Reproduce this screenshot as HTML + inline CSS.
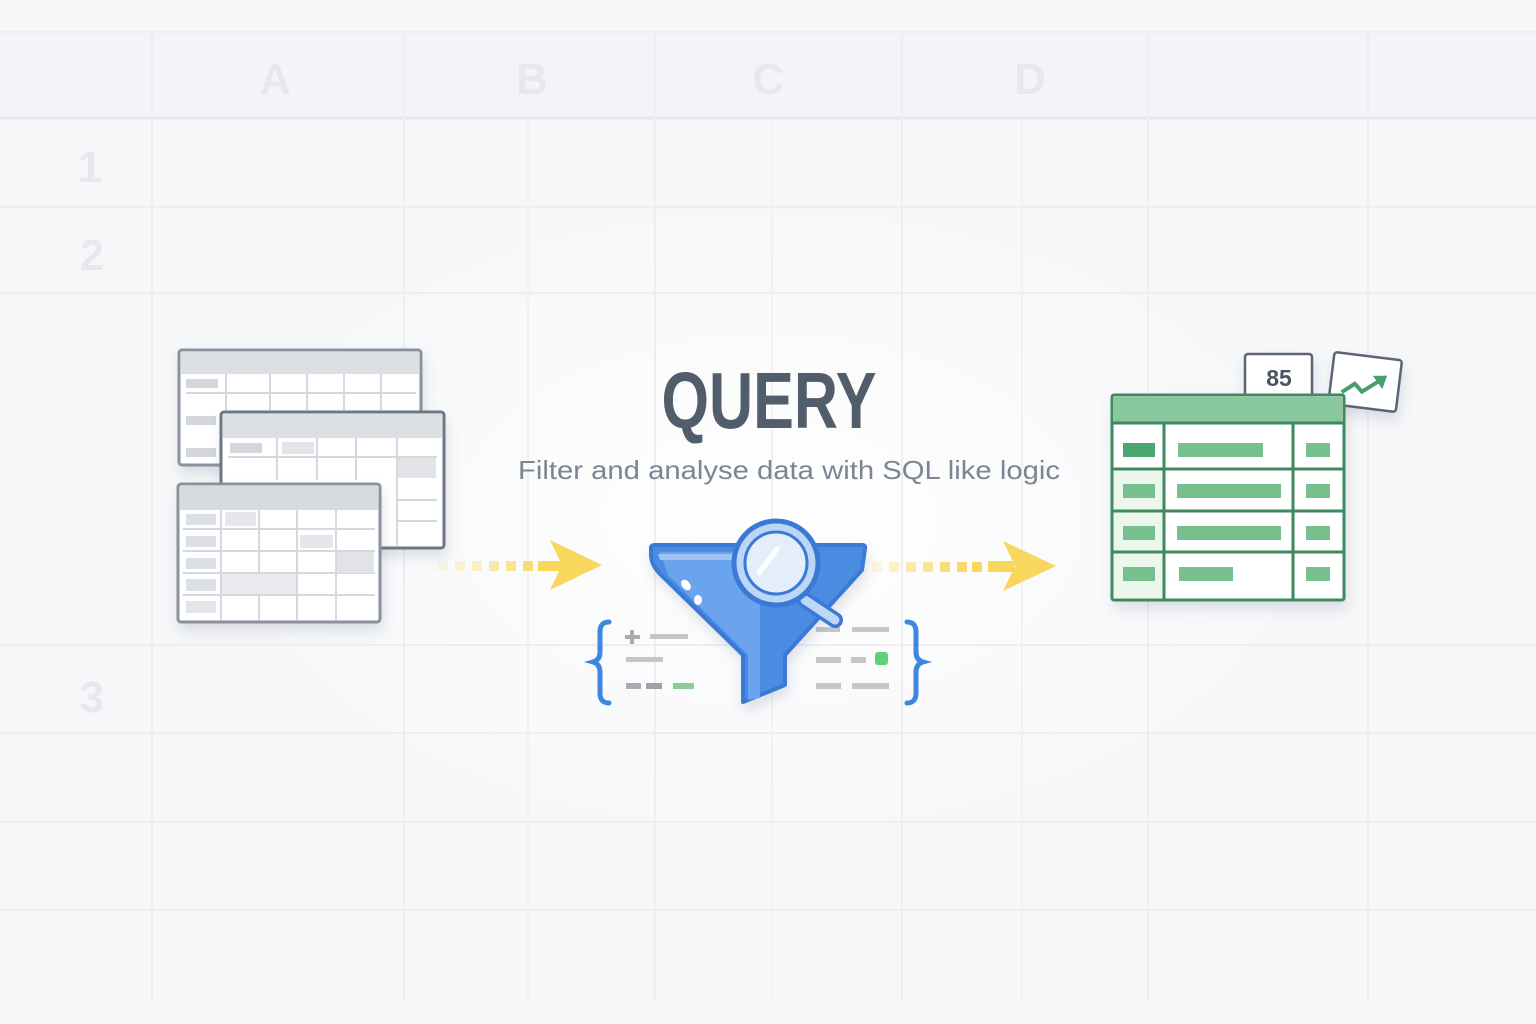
<!DOCTYPE html>
<html><head><meta charset="utf-8"><style>
html,body{margin:0;padding:0;background:#f6f7f9;}
svg{display:block;}
text{font-family:"Liberation Sans",sans-serif;}
</style></head><body>
<svg width="1536" height="1024" viewBox="0 0 1536 1024" xmlns="http://www.w3.org/2000/svg">
<defs>
<radialGradient id="glow" cx="50%" cy="50%" r="50%">
<stop offset="0" stop-color="#ffffff" stop-opacity="1"/>
<stop offset="1" stop-color="#ffffff" stop-opacity="0"/>
</radialGradient>
<filter id="sh" x="-20%" y="-20%" width="140%" height="150%"><feDropShadow dx="2" dy="8" stdDeviation="6" flood-color="#5a6a85" flood-opacity="0.18"/></filter>
</defs>
<rect width="1536" height="1024" fill="#f6f7f9"/>
<rect x="0" y="30" width="1536" height="88" fill="#f3f4f7"/>
<ellipse cx="770" cy="520" rx="560" ry="330" fill="url(#glow)"/>
<!-- grid -->
<g stroke="#eceef2" stroke-width="2" fill="none">
<line x1="0" y1="32" x2="1536" y2="32"/>
<line x1="0" y1="118" x2="1536" y2="118" stroke="#e5e8ee" stroke-width="3"/>
<line x1="0" y1="207" x2="1536" y2="207"/>
<line x1="0" y1="293" x2="1536" y2="293"/>
<line x1="0" y1="645" x2="1536" y2="645"/>
<line x1="0" y1="733" x2="1536" y2="733"/>
<line x1="0" y1="822" x2="1536" y2="822"/>
<line x1="0" y1="910" x2="1536" y2="910"/>
<line x1="152" y1="32" x2="152" y2="1000"/>
<line x1="404" y1="32" x2="404" y2="1000"/>
<line x1="655" y1="32" x2="655" y2="1000"/>
<line x1="902" y1="32" x2="902" y2="1000"/>
<line x1="1148" y1="32" x2="1148" y2="1000"/>
<line x1="1368" y1="32" x2="1368" y2="1000"/>
<line x1="528" y1="118" x2="528" y2="1000" stroke="#f0f1f4"/>
<line x1="772" y1="118" x2="772" y2="1000" stroke="#f0f1f4"/>
<line x1="1022" y1="118" x2="1022" y2="1000" stroke="#f0f1f4"/>
</g>
<g fill="#e6e8ed" font-size="44" font-weight="bold" text-anchor="middle">
<text x="275" y="94">A</text><text x="532" y="94">B</text><text x="768" y="94">C</text><text x="1030" y="94">D</text>
<text x="90" y="182">1</text><text x="92" y="270">2</text><text x="92" y="712">3</text>
</g>

<!-- left tables -->
<g filter="url(#sh)">
<rect x="179" y="350" width="242" height="115" rx="3" fill="#fff" stroke="#8a929e" stroke-width="3"/>
<rect x="181" y="352" width="238" height="22" fill="#dcdfe4"/>
<g stroke="#d5d8de" stroke-width="2"><line x1="226" y1="374" x2="226" y2="410"/><line x1="270" y1="374" x2="270" y2="410"/><line x1="307" y1="374" x2="307" y2="410"/><line x1="344" y1="374" x2="344" y2="410"/><line x1="381" y1="374" x2="381" y2="410"/><line x1="186" y1="393" x2="416" y2="393"/></g>
<rect x="186" y="379" width="32" height="9" fill="#d3d6db"/><rect x="186" y="416" width="30" height="9" fill="#d3d6db"/><rect x="186" y="448" width="30" height="9" fill="#d3d6db"/>
</g>
<g filter="url(#sh)">
<rect x="221" y="412" width="223" height="136" rx="3" fill="#fff" stroke="#6d7683" stroke-width="3"/>
<rect x="223" y="414" width="219" height="24" fill="#dcdfe4"/>
<g stroke="#d5d8de" stroke-width="2"><line x1="277" y1="438" x2="277" y2="480"/><line x1="317" y1="438" x2="317" y2="480"/><line x1="356" y1="438" x2="356" y2="480"/><line x1="397" y1="438" x2="397" y2="546"/><line x1="228" y1="457" x2="437" y2="457"/><line x1="397" y1="500" x2="437" y2="500"/><line x1="397" y1="521" x2="437" y2="521"/></g>
<rect x="230" y="443" width="32" height="10" fill="#d3d6db"/><rect x="282" y="442" width="32" height="12" fill="#e3e5e9"/><rect x="398" y="458" width="38" height="20" fill="#e1e3e7"/>
</g>
<g filter="url(#sh)">
<rect x="178" y="484" width="202" height="138" rx="3" fill="#fff" stroke="#8a929e" stroke-width="3"/>
<rect x="180" y="486" width="198" height="24" fill="#d7dade"/>
<g stroke="#d5d8de" stroke-width="2"><line x1="221" y1="510" x2="221" y2="620"/><line x1="259" y1="510" x2="259" y2="620"/><line x1="297" y1="510" x2="297" y2="620"/><line x1="336" y1="510" x2="336" y2="620"/><line x1="183" y1="529" x2="375" y2="529"/><line x1="183" y1="551" x2="375" y2="551"/><line x1="183" y1="573" x2="375" y2="573"/><line x1="183" y1="595" x2="375" y2="595"/></g>
<rect x="186" y="514" width="30" height="11" fill="#dcdfe3"/><rect x="186" y="536" width="30" height="11" fill="#dcdfe3"/><rect x="186" y="558" width="30" height="11" fill="#dcdfe3"/><rect x="186" y="579" width="30" height="12" fill="#dcdfe3"/><rect x="186" y="601" width="30" height="12" fill="#e3e5e9"/>
<rect x="225" y="512" width="31" height="14" fill="#e5e7ea"/><rect x="300" y="535" width="33" height="13" fill="#e5e7ea"/><rect x="337" y="552" width="37" height="21" fill="#e1e3e6"/><rect x="222" y="574" width="74" height="20" fill="#eaebee"/>
</g>

<!-- arrows -->
<g fill="#f9d65c">
<rect x="438" y="561" width="10" height="10" opacity="0.15"/><rect x="455" y="561" width="10" height="10" opacity="0.25"/><rect x="472" y="561" width="10" height="10" opacity="0.35"/><rect x="489" y="561" width="10" height="10" opacity="0.5"/><rect x="506" y="561" width="10" height="10" opacity="0.65"/><rect x="523" y="561" width="10" height="10" opacity="0.8"/>
<rect x="538" y="561" width="24" height="10"/>
<polygon points="550,540 602,565 550,590 562,565"/>
<rect x="872" y="562" width="10" height="10" opacity="0.2"/><rect x="889" y="562" width="10" height="10" opacity="0.35"/><rect x="906" y="562" width="10" height="10" opacity="0.5"/><rect x="923" y="562" width="10" height="10" opacity="0.65"/><rect x="940" y="562" width="10" height="10" opacity="0.8"/><rect x="957" y="562" width="10" height="10" opacity="0.9"/><rect x="972" y="562" width="10" height="10"/>
<rect x="988" y="561" width="26" height="11"/>
<polygon points="1003,541 1056,566 1003,591 1015,566"/>
</g>

<!-- text -->
<text x="769" y="428" text-anchor="middle" font-family="'Liberation Sans Narrow','Liberation Sans',sans-serif" font-weight="bold" font-size="80" fill="#525d6c" textLength="215" lengthAdjust="spacingAndGlyphs">QUERY</text>
<text x="789" y="479" text-anchor="middle" font-size="26" fill="#7c8592" textLength="542" lengthAdjust="spacingAndGlyphs">Filter and analyse data with SQL like logic</text>

<!-- braces and code -->
<g fill="none" stroke="#3f86e0" stroke-width="5" stroke-linecap="round">
<path d="M609,622 Q600,622 600,632 L600,652 Q600,660 593,662 Q600,664 600,672 L600,693 Q600,703 609,703"/>
<path d="M907,622 Q916,622 916,632 L916,652 Q916,660 923,662 Q916,664 916,672 L916,693 Q916,703 907,703"/>
</g>
<g fill="#c4c6ca">
<rect x="625" y="635" width="15" height="4" fill="#a9acb1"/><rect x="630" y="630" width="4" height="14" fill="#a9acb1"/>
<rect x="650" y="634" width="38" height="5"/><rect x="626" y="657" width="37" height="5"/>
<rect x="626" y="683" width="15" height="6" fill="#a9acb1"/><rect x="646" y="683" width="16" height="6" fill="#9fa3a8"/><rect x="673" y="683" width="21" height="6" fill="#8ecb9b"/>
<rect x="816" y="627" width="24" height="5"/><rect x="852" y="627" width="37" height="5"/>
<rect x="816" y="657" width="25" height="6"/><rect x="851" y="657" width="15" height="6"/><rect x="875" y="652" width="13" height="13" rx="3" fill="#5fd07a"/>
<rect x="816" y="683" width="25" height="6"/><rect x="852" y="683" width="37" height="6"/>
</g>

<!-- funnel -->
<g filter="url(#sh)">
<path d="M651,548 Q651,545 655,545 L862,545 Q866,545 865,549 L862,570 L785,655 L785,685 L743,702 L743,655 L661,575 Q651,565 651,555 Z" fill="#4a8ce2" stroke="#3a79d6" stroke-width="4" stroke-linejoin="round"/>
<path d="M660,552 L760,552 L760,698 L748,700 L748,655 L668,575 Z" fill="#6ba4ee"/>
<path d="M658,554 L740,554 L740,560 L660,560 Z" fill="#9ec4f6"/>
<ellipse cx="686" cy="585" rx="4" ry="6" transform="rotate(-40 686 585)" fill="#fff"/>
<ellipse cx="698" cy="600" rx="4" ry="5" fill="#fff"/>
</g>
<g>
<line x1="805" y1="600" x2="835" y2="620" stroke="#3a79d6" stroke-width="16" stroke-linecap="round"/>
<line x1="805" y1="600" x2="835" y2="620" stroke="#bfd7f6" stroke-width="9" stroke-linecap="round"/>
<circle cx="776" cy="563" r="42" fill="#bcd6f6" stroke="#3a79d6" stroke-width="5"/>
<circle cx="776" cy="563" r="31" fill="#e4eefb" stroke="#3a79d6" stroke-width="3"/>
<line x1="759" y1="573" x2="777" y2="549" stroke="#fff" stroke-width="5" stroke-linecap="round"/>
</g>

<!-- result table -->
<g filter="url(#sh)">
<rect x="1245" y="354" width="67" height="48" rx="3" fill="#fff" stroke="#5b6573" stroke-width="2.5"/>
<text x="1279" y="386" text-anchor="middle" font-weight="bold" font-size="23" fill="#4a5563">85</text>
<g transform="rotate(7 1365 383)">
<rect x="1331" y="356" width="68" height="52" rx="3" fill="#fff" stroke="#5b6573" stroke-width="2.5"/>
<polyline points="1343,395 1355,385 1363,392 1378,380" fill="none" stroke="#46a06a" stroke-width="4"/>
<polygon points="1372,375 1386,373 1383,387" fill="#46a06a"/>
</g>
</g>
<g filter="url(#sh)">
<rect x="1112" y="395" width="232" height="205" rx="2" fill="#fff" stroke="#3e8a60" stroke-width="3"/>
<rect x="1114" y="397" width="228" height="25" fill="#89c89c"/>
<rect x="1114" y="469" width="49" height="129" fill="#edf6ec"/>
<g stroke="#3e8a60" stroke-width="3"><line x1="1112" y1="423" x2="1344" y2="423"/><line x1="1112" y1="469" x2="1344" y2="469"/><line x1="1112" y1="511" x2="1344" y2="511"/><line x1="1112" y1="552" x2="1344" y2="552"/><line x1="1164" y1="423" x2="1164" y2="600"/><line x1="1293" y1="423" x2="1293" y2="600"/></g>
<g fill="#77bf8d">
<rect x="1123" y="443" width="32" height="14" fill="#4ea56f"/><rect x="1178" y="443" width="85" height="14"/><rect x="1306" y="443" width="24" height="14"/>
<rect x="1123" y="484" width="32" height="14"/><rect x="1177" y="484" width="104" height="14"/><rect x="1306" y="484" width="24" height="14"/>
<rect x="1123" y="526" width="32" height="14"/><rect x="1177" y="526" width="104" height="14"/><rect x="1306" y="526" width="24" height="14"/>
<rect x="1123" y="567" width="32" height="14"/><rect x="1179" y="567" width="54" height="14"/><rect x="1306" y="567" width="24" height="14"/>
</g>
</g>
</svg>
</body></html>
